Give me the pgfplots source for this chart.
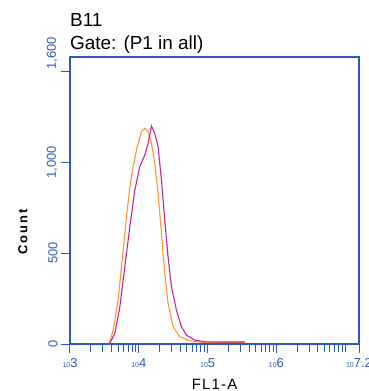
\documentclass[border=0pt]{standalone}
\usepackage{fontspec}
\setmainfont{Liberation Sans}
\usepackage{pgfplots}
\pgfplotsset{compat=1.18}
\definecolor{axblue}{RGB}{45,90,190}
\definecolor{fcorange}{RGB}{255,150,45}
\definecolor{fcmag}{RGB}{200,35,145}
\newcommand{\lt}[1]{{\fontsize{7}{7}\selectfont 10}{\fontsize{13}{13}\selectfont #1}}
\begin{document}
\begin{tikzpicture}
\useasboundingbox (-70bp,-47bp) rectangle (299bp,344bp);
\begin{axis}[
  at={(0,0)}, anchor=south west,
  scale only axis, width=289bp, height=287bp,
  xmin=3, xmax=7.2, ymin=0, ymax=1577,
  clip=false,
  axis line style={axblue, line width=1.2bp},
  tick style={axblue, line width=1bp},
  tick align=outside, tick pos=left,
  major tick length=9bp, minor tick length=8bp,
  xtick={3,4,5,6,7.2},
  xticklabels={\lt{3},\lt{4},\lt{5},\lt{6},\lt{7.2}},
  minor xtick={3.30103,3.47712,3.60206,3.69897,3.77815,3.84510,3.90309,3.95424,
               4.30103,4.47712,4.60206,4.69897,4.77815,4.84510,4.90309,4.95424,
               5.30103,5.47712,5.60206,5.69897,5.77815,5.84510,5.90309,5.95424,
               6.30103,6.47712,6.60206,6.69897,6.77815,6.84510,6.90309,6.95424,7},
  xticklabel style={text=axblue, anchor=base, yshift=-14bp},
  ytick={0,500,1000,1500},
  yticklabels={0,500,{1,000},{}},
  yticklabel style={rotate=90, anchor=south, font=\fontsize{13}{13}\selectfont, text=axblue},
  xlabel={FL1-A},
  xlabel style={at={(axis description cs:0.5,0)}, anchor=center, yshift=-40bp, font=\fontsize{15}{15}\selectfont\addfontfeature{LetterSpace=8}},
  ylabel={\textbf{Count}},
  ylabel style={at={(axis description cs:-0.1626,0.394)}, anchor=center, font=\fontsize{13}{13}\selectfont\addfontfeature{LetterSpace=15}},
]
\addplot[fcorange, line width=1.1bp] table {
x y
3.570 0
3.628 77
3.700 242
3.773 516
3.821 700
3.870 864
3.918 974
3.966 1066
4.039 1167
4.087 1185
4.135 1167
4.184 1102
4.232 993
4.280 828
4.329 608
4.377 388
4.425 223
4.498 95
4.594 40
4.739 18
4.900 10
5.100 9
5.540 9
};
\addplot[fcmag, line width=1.1bp] table {
x y
3.570 0
3.652 58
3.725 205
3.797 425
3.870 645
3.942 846
4.014 974
4.087 1038
4.135 1102
4.184 1198
4.232 1158
4.280 1084
4.329 901
4.377 681
4.425 480
4.474 315
4.546 187
4.619 95
4.691 49
4.811 22
4.950 12
5.200 11
5.540 11
};
\node[anchor=base west, font=\fontsize{19}{19}\selectfont, inner sep=0pt] at ([yshift=30bp]rel axis cs:0,1) {B11};
\node[anchor=base west, font=\fontsize{19}{19}\selectfont, inner sep=0pt] at ([yshift=7.5bp]rel axis cs:0,1) {Gate: (P1 in all)};
\node[rotate=90, anchor=south, font=\fontsize{13}{13}\selectfont, text=axblue] at ([xshift=-9bp, yshift=18bp]axis cs:3,1500) {1,600};
\end{axis}
\end{tikzpicture}
\end{document}
